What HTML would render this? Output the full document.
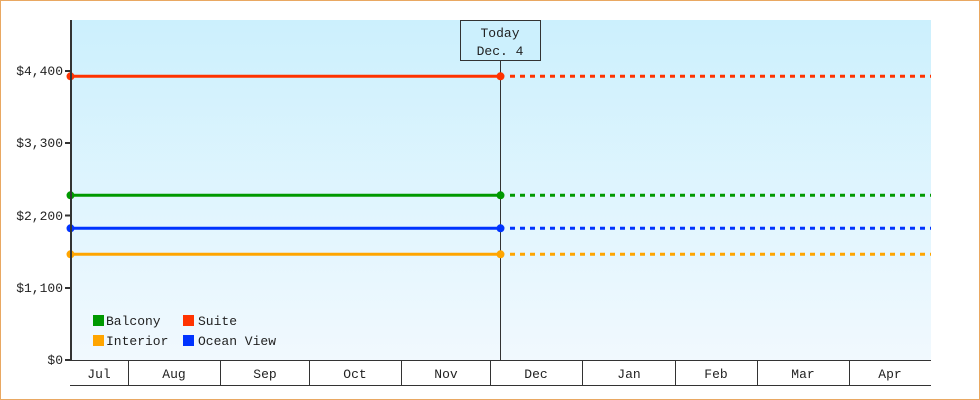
<!DOCTYPE html>
<html><head><meta charset="utf-8"><style>
html,body{margin:0;padding:0;background:#fff;}
svg{display:block;}
text{font-family:"Liberation Mono","DejaVu Sans Mono",monospace;font-size:13px;fill:#222;}
</style></head><body>
<svg width="980" height="400" viewBox="0 0 980 400" xmlns="http://www.w3.org/2000/svg">
<defs>
<linearGradient id="bg" x1="0" y1="0" x2="0" y2="1">
<stop offset="0" stop-color="#ccf0fd"/>
<stop offset="1" stop-color="#f1f9fe"/>
</linearGradient>
</defs>
<rect x="0.5" y="0.5" width="979" height="399" fill="#fff" stroke="#e9a862" stroke-width="1"/>
<rect x="71" y="20" width="860" height="340" fill="url(#bg)"/>
<!-- today line -->
<line x1="500.5" y1="60" x2="500.5" y2="360" stroke="#333" stroke-width="1"/>
<rect x="460.5" y="20.5" width="80" height="40" fill="#ccf0fd" stroke="#333" stroke-width="1"/>
<text x="500" y="37" text-anchor="middle">Today</text>
<text x="500" y="55" text-anchor="middle">Dec. 4</text>
<!-- series -->
<g stroke-width="3" fill="none">
<line x1="71" y1="76.3" x2="500" y2="76.3" stroke="#ff3300"/>
<line x1="510" y1="76.3" x2="931" y2="76.3" stroke="#ff3300" stroke-dasharray="5 5"/>
<line x1="71" y1="195.3" x2="500" y2="195.3" stroke="#009900"/>
<line x1="510" y1="195.3" x2="931" y2="195.3" stroke="#009900" stroke-dasharray="5 5"/>
<line x1="71" y1="228.3" x2="500" y2="228.3" stroke="#0033ff"/>
<line x1="510" y1="228.3" x2="931" y2="228.3" stroke="#0033ff" stroke-dasharray="5 5"/>
<line x1="71" y1="254.3" x2="500" y2="254.3" stroke="#ffa500"/>
<line x1="510" y1="254.3" x2="931" y2="254.3" stroke="#ffa500" stroke-dasharray="5 5"/>
</g>
<g>
<circle cx="70.5" cy="76.3" r="4" fill="#ff3300"/><circle cx="500.5" cy="76.3" r="4" fill="#ff3300"/>
<circle cx="70.5" cy="195.3" r="4" fill="#009900"/><circle cx="500.5" cy="195.3" r="4" fill="#009900"/>
<circle cx="70.5" cy="228.3" r="4" fill="#0033ff"/><circle cx="500.5" cy="228.3" r="4" fill="#0033ff"/>
<circle cx="70.5" cy="254.3" r="4" fill="#ffa500"/><circle cx="500.5" cy="254.3" r="4" fill="#ffa500"/>
</g>
<!-- y axis -->
<line x1="71" y1="20" x2="71" y2="361" stroke="#333" stroke-width="2"/>
<g stroke="#333" stroke-width="2">
<line x1="65" y1="71" x2="71" y2="71"/>
<line x1="65" y1="143" x2="71" y2="143"/>
<line x1="65" y1="215.5" x2="71" y2="215.5"/>
<line x1="65" y1="288" x2="71" y2="288"/>
<line x1="65" y1="360" x2="71" y2="360"/>
</g>
<g text-anchor="end">
<text x="63" y="75">$4,400</text>
<text x="63" y="147">$3,300</text>
<text x="63" y="220">$2,200</text>
<text x="63" y="292">$1,100</text>
<text x="63" y="364">$0</text>
</g>
<!-- x axis band -->
<line x1="70" y1="360.5" x2="931" y2="360.5" stroke="#333" stroke-width="1"/>
<line x1="70" y1="385.5" x2="931" y2="385.5" stroke="#333" stroke-width="1"/>
<g stroke="#333" stroke-width="1">
<line x1="128.5" y1="360" x2="128.5" y2="385"/>
<line x1="220.5" y1="360" x2="220.5" y2="385"/>
<line x1="309.5" y1="360" x2="309.5" y2="385"/>
<line x1="401.5" y1="360" x2="401.5" y2="385"/>
<line x1="490.5" y1="360" x2="490.5" y2="385"/>
<line x1="582.5" y1="360" x2="582.5" y2="385"/>
<line x1="675.5" y1="360" x2="675.5" y2="385"/>
<line x1="757.5" y1="360" x2="757.5" y2="385"/>
<line x1="849.5" y1="360" x2="849.5" y2="385"/>
</g>
<g text-anchor="middle">
<text x="99" y="378">Jul</text>
<text x="174" y="378">Aug</text>
<text x="265" y="378">Sep</text>
<text x="355" y="378">Oct</text>
<text x="446" y="378">Nov</text>
<text x="536" y="378">Dec</text>
<text x="629" y="378">Jan</text>
<text x="716" y="378">Feb</text>
<text x="803" y="378">Mar</text>
<text x="890" y="378">Apr</text>
</g>
<!-- legend -->
<rect x="93" y="315" width="11" height="11" fill="#009900"/>
<text x="106" y="325">Balcony</text>
<rect x="183" y="315" width="11" height="11" fill="#ff3300"/>
<text x="198" y="325">Suite</text>
<rect x="93" y="335" width="11" height="11" fill="#ffa500"/>
<text x="106" y="345">Interior</text>
<rect x="183" y="335" width="11" height="11" fill="#0033ff"/>
<text x="198" y="345">Ocean View</text>
</svg>
</body></html>
